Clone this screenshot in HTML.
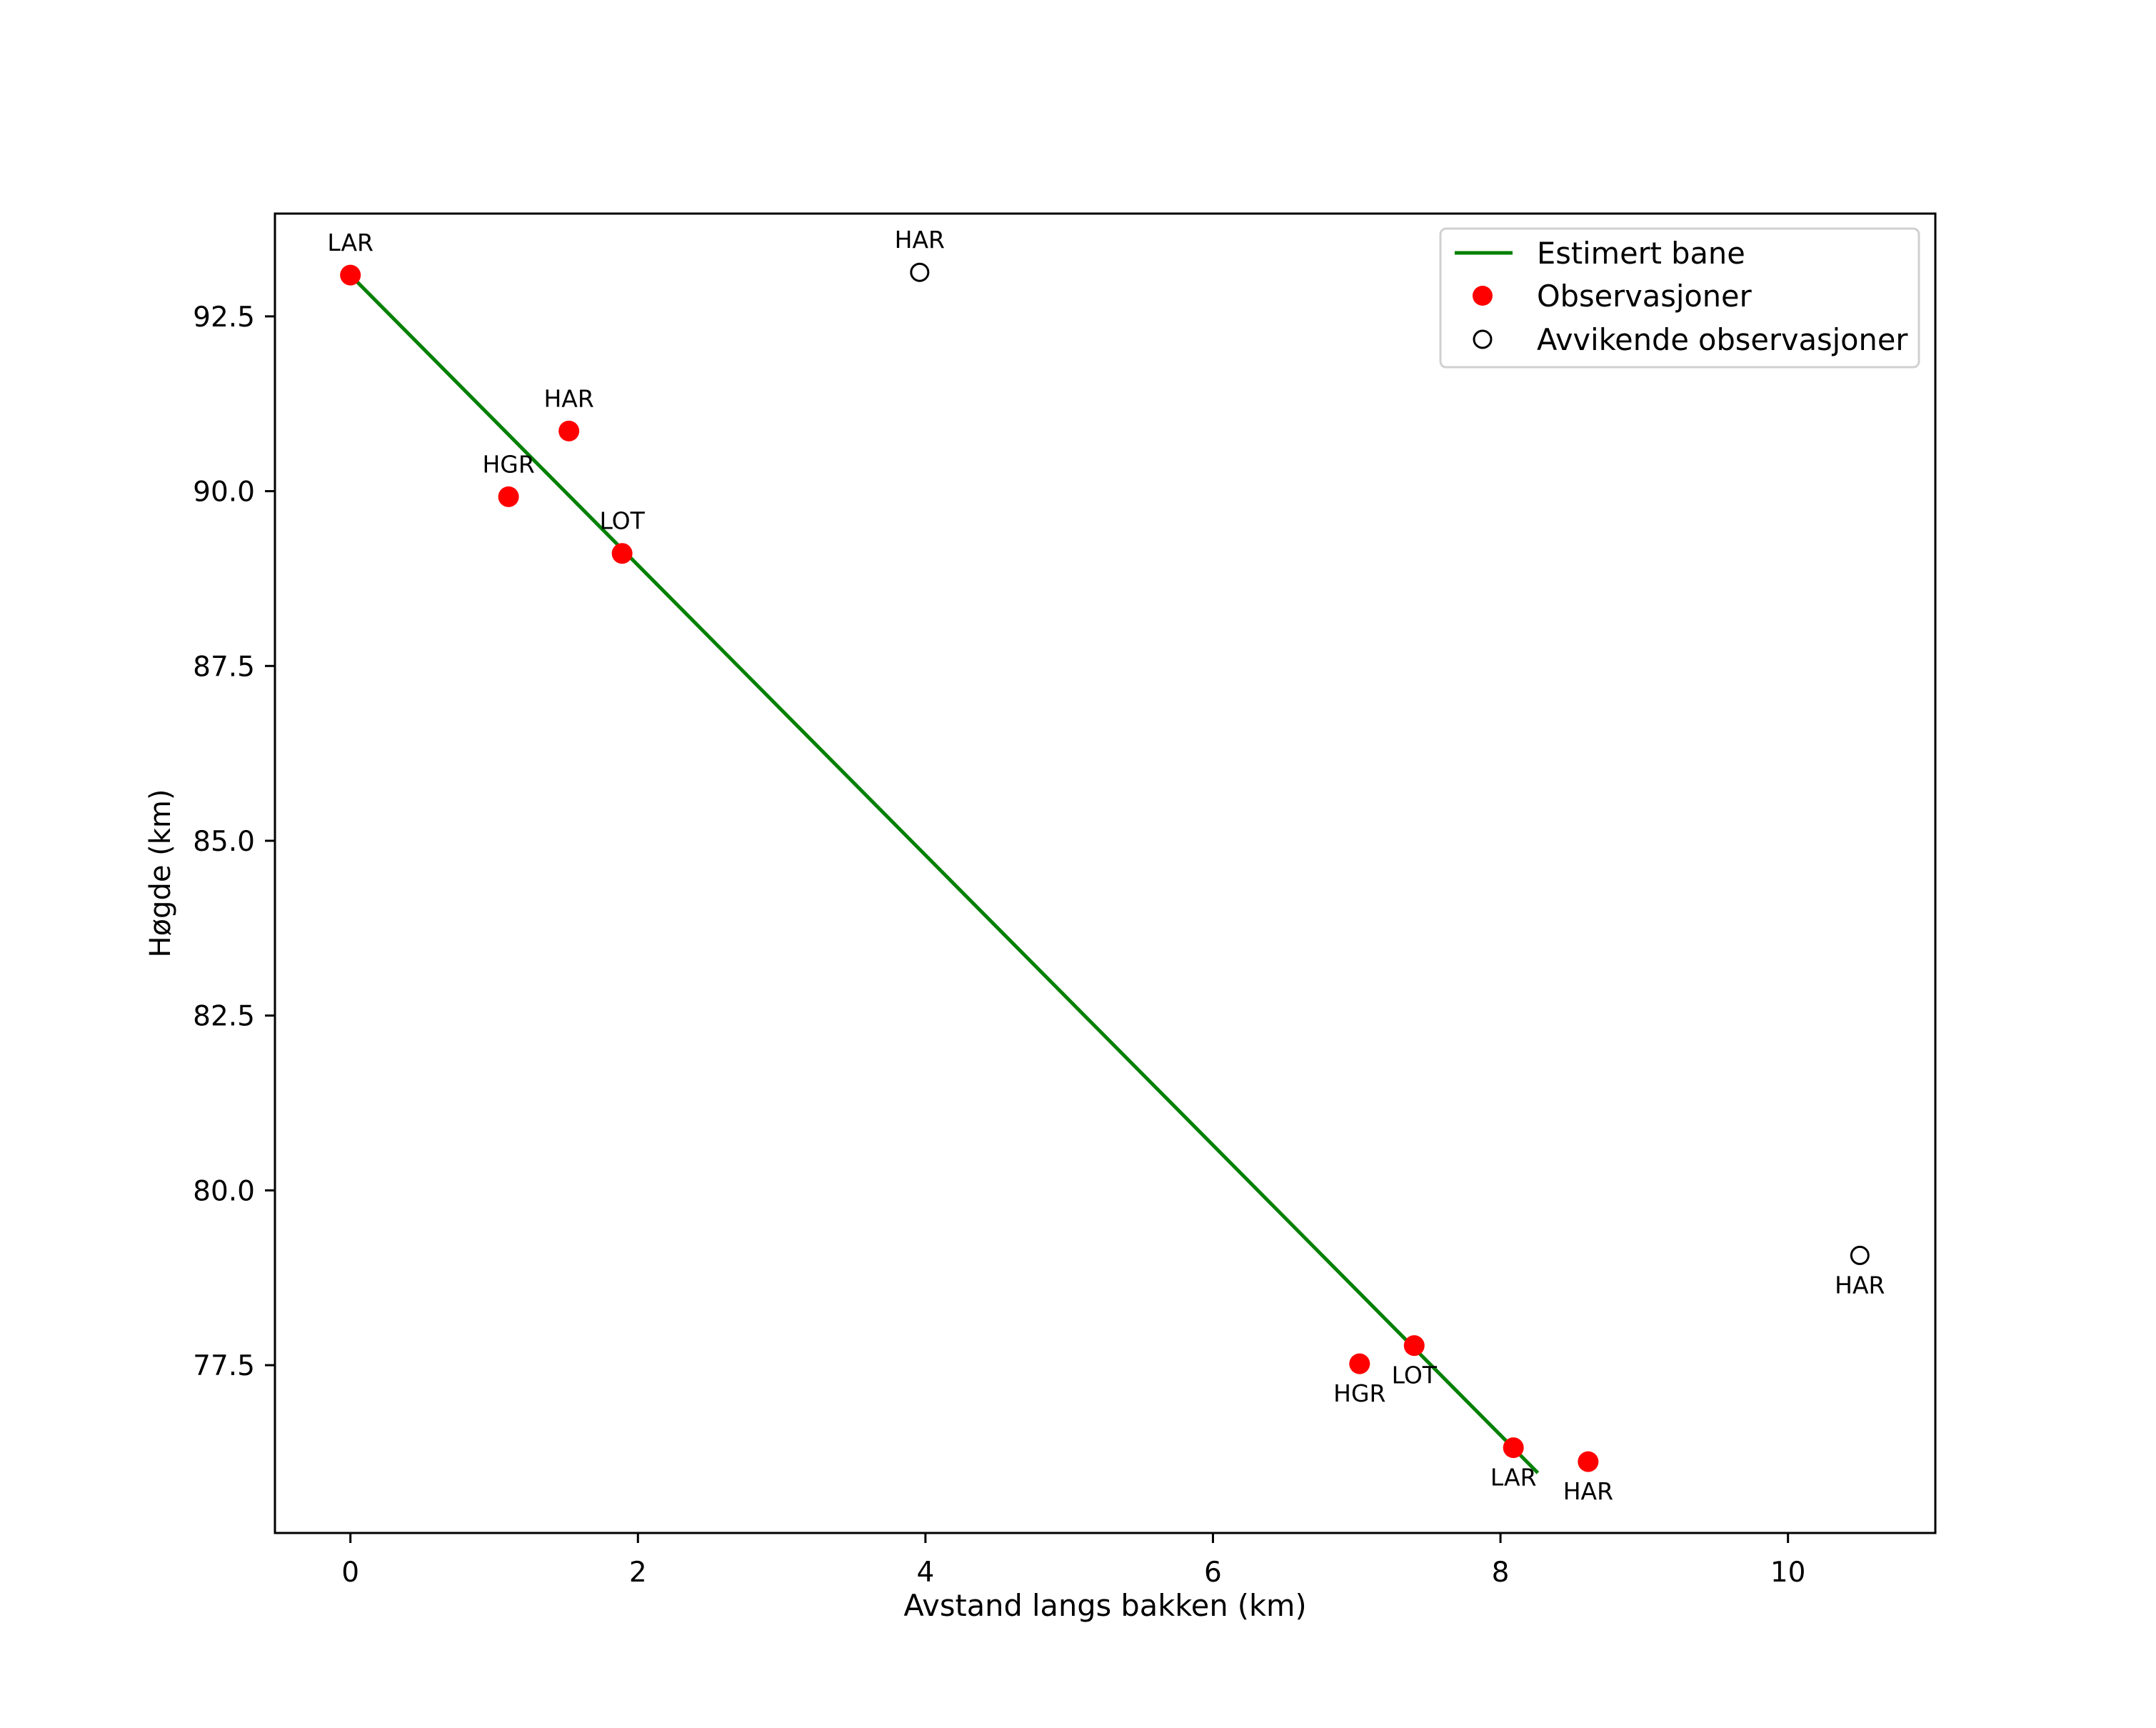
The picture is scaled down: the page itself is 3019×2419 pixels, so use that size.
<!DOCTYPE html>
<html><head><meta charset="utf-8"><style>
html,body{margin:0;padding:0;background:#fff}
svg{display:block;font-family:"DejaVu Sans","Liberation Sans",sans-serif}
</style></head><body>
<svg id="chart" width="3019" height="2419" viewBox="0 0 3019 2419" xmlns="http://www.w3.org/2000/svg">
<rect width="3019" height="2419" fill="#fff"/>
<g id="plot"></g>
</svg>
<script>
const obsX=[0.0,1.52,1.10,1.89,7.02,7.40,8.09,8.61];
const obsY=[93.09,90.86,89.92,89.11,77.52,77.78,76.32,76.12];
const obsLabels=["LAR","HAR","HGR","LOT","HGR","LOT","LAR","HAR"];
const obsBelow=[false,false,false,false,true,true,true,true];
const outX=[3.96,10.5];
const outY=[93.13,79.07];
const outLabels=["HAR","HAR"];
const outBelow=[false,true];
const lineX=[0.0,8.26];
const lineY=[93.09,75.96];
const xTicks=[0,2,4,6,8,10];
const xTickLabels=["0","2","4","6","8","10"];
const yTicks=[77.5,80,82.5,85,87.5,90,92.5];
const yTickLabels=["77.5","80.0","82.5","85.0","87.5","90.0","92.5"];

const L=385,R=2710,T=299,B=2146;
const xMin=-0.525,xMax=11.025,yMin=75.10,yMax=93.97;
const sx=v=>L+(v-xMin)/(xMax-xMin)*(R-L);
const sy=v=>B-(v-yMin)/(yMax-yMin)*(B-T);
const NS="http://www.w3.org/2000/svg";
const g=document.getElementById('plot');
function mk(tag,attrs,parent){const e=document.createElementNS(NS,tag);for(const k in attrs)e.setAttribute(k,attrs[k]);(parent||g).appendChild(e);return e;}

let fr=mk('rect',{x:L,y:T,width:R-L,height:B-T,fill:'none',stroke:'#000','stroke-width':3});



xTicks.forEach((t,i)=>{
  const x=sx(t);
  let l=mk('line',{x1:x,x2:x,y1:B,y2:B+14,stroke:'#000','stroke-width':3});
  
  
  let tx=mk('text',{x:x,y:B+68,'font-size':39,'text-anchor':'middle',fill:'#000'});
  tx.textContent=xTickLabels[i];
  
  
});
yTicks.forEach((t,i)=>{
  const y=sy(t);
  let l=mk('line',{x1:L-14,x2:L,y1:y,y2:y,stroke:'#000','stroke-width':3});
  
  
  let tx=mk('text',{x:L-28,y:y+14,'font-size':39,'text-anchor':'end',fill:'#000'});
  tx.textContent=yTickLabels[i];
  
  
});
let xl=mk('text',{x:(L+R)/2,y:2262,'font-size':41.5,'text-anchor':'middle',fill:'#000'});
xl.textContent='Avstand langs bakken (km)';


let yl=mk('text',{x:0,y:0,'font-size':40,'text-anchor':'middle',fill:'#000',transform:`translate(238,${(T+B)/2}) rotate(-90)`});
yl.textContent='Høgde (km)';



let ln=mk('line',{x1:sx(lineX[0]),y1:sy(lineY[0]),x2:sx(lineX[1]),y2:sy(lineY[1]),stroke:'#008000','stroke-width':5});



obsX.forEach((v,i)=>{
  const cx=sx(v),cy=sy(obsY[i]);
  let c=mk('circle',{cx:cx,cy:cy,r:14.5,fill:'#ff0000'});
  
  
  let t=mk('text',{x:cx,y:obsBelow[i]?cy+53:cy-34,'font-size':33,'text-anchor':'middle',fill:'#000'});
  t.textContent=obsLabels[i];
  
  
});
outX.forEach((v,i)=>{
  const cx=sx(v),cy=sy(outY[i]);
  let c=mk('circle',{cx:cx,cy:cy,r:12,fill:'none',stroke:'#000','stroke-width':3});
  
  
  let t=mk('text',{x:cx,y:outBelow[i]?cy+53:cy-34,'font-size':33,'text-anchor':'middle',fill:'#000'});
  t.textContent=outLabels[i];
  
  
});

const lg=mk('g',{});


mk('rect',{x:2017,y:320,width:670,height:194,rx:8,fill:'#fff','fill-opacity':0.8,stroke:'#d0d0d0','stroke-width':3},lg);
const ly=[354,414,475];
let h1=mk('line',{x1:2037,x2:2118,y1:ly[0],y2:ly[0],stroke:'#008000','stroke-width':5},lg);


let h2=mk('circle',{cx:2076,cy:ly[1],r:14,fill:'#ff0000'},lg);


let h3=mk('circle',{cx:2076,cy:ly[2],r:12,fill:'none',stroke:'#000','stroke-width':3},lg);


const legTexts=['Estimert bane','Observasjoner','Avvikende observasjoner'];
legTexts.forEach((s,i)=>{
  let t=mk('text',{x:2152,y:ly[i]+15,'font-size':41.5,fill:'#000'},lg);
  t.textContent=s;
  
  
});
</script>
</body></html>
